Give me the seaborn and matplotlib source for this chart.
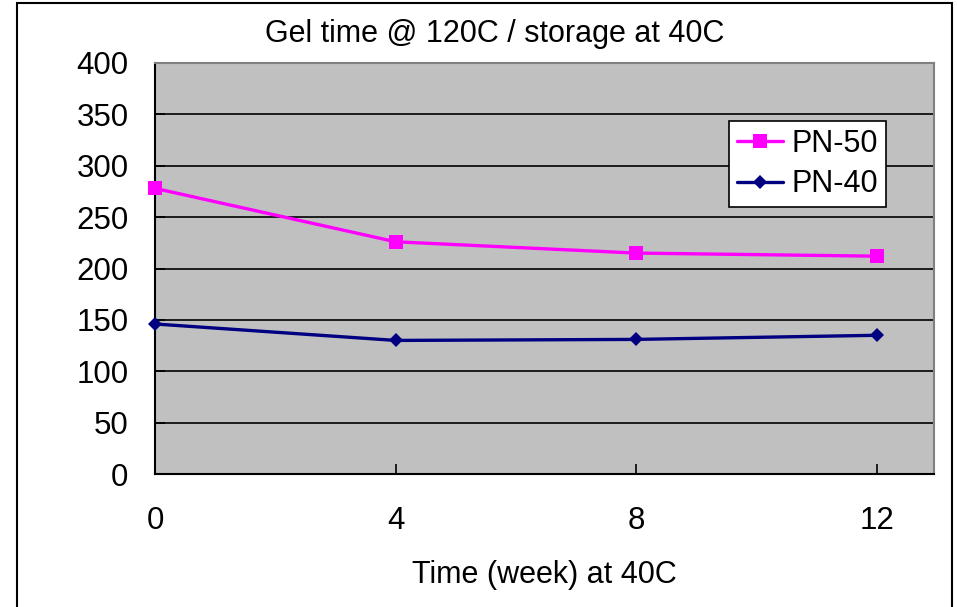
import matplotlib
matplotlib.use('Agg')
import matplotlib.pyplot as plt
import pandas as pd
import seaborn as sns
from matplotlib.patches import Rectangle

# Data
weeks = [0, 4, 8, 12]
pn50 = [278, 226, 215, 212]
pn40 = [146, 130, 131, 135]
y_ticks = [0, 50, 100, 150, 200, 250, 300, 350, 400]

df = pd.DataFrame({
    'week': weeks * 2,
    'gel': pn50 + pn40,
    'series': ['PN-50'] * 4 + ['PN-40'] * 4,
})

sns.set_style('white')
plt.rcParams['font.family'] = ['Liberation Sans', 'DejaVu Sans']
plt.rcParams['text.color'] = 'black'
plt.rcParams['axes.labelcolor'] = 'black'

fig = plt.figure(figsize=(9.57, 6.07), dpi=100)
ax = fig.add_axes([155 / 957, 1 - 474 / 607, (934 - 155) / 957, (474 - 63) / 607])
ax.set_facecolor('#C0C0C0')

# one call per series so each gets its own marker size
sns.lineplot(data=df[df['series'] == 'PN-50'], x='week', y='gel', ax=ax,
             color='#FF00FF', marker='s', markersize=10, markeredgewidth=0,
             linewidth=2.4, label='PN-50', zorder=4, clip_on=False)
sns.lineplot(data=df[df['series'] == 'PN-40'], x='week', y='gel', ax=ax,
             color='#000080', marker='D', markersize=7, markeredgewidth=0,
             linewidth=2.4, label='PN-40', zorder=4, clip_on=False)

ax.set_xlim(0, 12.95)
ax.set_ylim(0, 400)
ax.set_xticks(weeks)
ax.set_yticks(y_ticks)
ax.yaxis.grid(True, color='black', linewidth=1.2)
ax.set_axisbelow(True)

ax.tick_params(axis='both', direction='in', length=7, width=1.2, colors='black', labelsize=22.5)
ax.tick_params(axis='x', pad=23, bottom=True)
ax.tick_params(axis='y', pad=19, left=True)

for side in ['left', 'bottom']:
    ax.spines[side].set_color('black')
    ax.spines[side].set_linewidth(1.5)
for side in ['top', 'right']:
    ax.spines[side].set_color('#808080')
    ax.spines[side].set_linewidth(1.5)

ax.set_xlabel('Time (week) at 40C', fontsize=22, labelpad=17)
ax.set_ylabel('')

leg = ax.legend(loc='upper right', bbox_to_anchor=(886 / 957, 1 - 121 / 607),
                bbox_transform=fig.transFigure, fontsize=22, frameon=True,
                fancybox=False, framealpha=1, edgecolor='black',
                handlelength=1.5, handletextpad=0.3, borderpad=0.25,
                labelspacing=0.35, borderaxespad=0)
leg.get_frame().set_linewidth(1.2)

fig.text(495 / 957, 1 - 19 / 607, 'Gel time @ 120C / storage at 40C',
         ha='center', va='top', fontsize=22)

# black frame round the chart
fig.patches.append(Rectangle((17 / 957, -0.02), (952 - 17) / 957, 1.02 - 3 / 607,
                             transform=fig.transFigure, fill=False,
                             edgecolor='black', linewidth=1.5))

fig.savefig('out.png', dpi=100)
